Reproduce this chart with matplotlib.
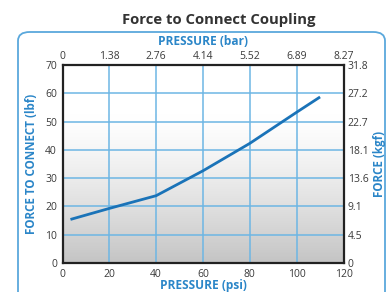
import matplotlib
matplotlib.use("Agg")
import matplotlib.pyplot as plt
import numpy as np
from matplotlib.patches import FancyBboxPatch

psi = [3.4, 20, 40, 60, 80, 100, 110]
force_lbf = [15.4, 19.3, 23.8, 32.6, 42.3, 53.3, 58.7]
psi_ticks = [0, 20, 40, 60, 80, 100, 120]
bar_labels = ["0", "1.38", "2.76", "4.14", "5.52", "6.89", "8.27"]
lbf_ticks = [0, 10, 20, 30, 40, 50, 60, 70]
kgf_labels = ["0", "4.5", "9.1", "13.6", "18.1", "22.7", "27.2", "31.8"]

plt.rcParams['font.family'] = ['Open Sans', 'DejaVu Sans']
blue = '#2b86c8'
grid_blue = '#6db6e4'
tick_col = '#3a3a3a'

W, H = 389, 292
L, R, T, B = 62.5, 343.5, 65, 263
fig = plt.figure(figsize=(W/100, H/100), dpi=100)
fig.patch.set_facecolor('white')

box = FancyBboxPatch((18/W, -0.1), (385-18)/W, (292-32)/H + 0.1,
                     boxstyle="round,pad=0,rounding_size=0.03",
                     transform=fig.transFigure, fc='white', ec='#5aa8dc', lw=1.3, zorder=-5)
fig.patches.append(box)

ax = fig.add_axes([L/W, (H-B)/H, (R-L)/W, (B-T)/H])
ax.set_xlim(0, 120)
ax.set_ylim(0, 70)

# gradient background
g = np.linspace(0, 1, 256).reshape(-1, 1)
vals = np.clip((0.75 - g) / 0.75, 0, 1)
shade = 1 - 0.23 * vals**1.3
img = np.dstack([shade, shade, shade])
ax.imshow(img, extent=[0, 120, 0, 70], origin='lower', aspect='auto', zorder=0)

for x in psi_ticks[1:-1]:
    ax.axvline(x, color=grid_blue, lw=1.1, zorder=1)
for y in lbf_ticks[1:-1]:
    ax.axhline(y, color=grid_blue, lw=1.1, zorder=1)

ax.plot(psi, force_lbf, color='#1a73b8', lw=2.0, zorder=3, solid_capstyle='butt')

for s in ax.spines.values():
    s.set_color('#222222')
    s.set_linewidth(1.6)

ax.set_xticks(psi_ticks)
ax.set_xticklabels([str(t) for t in psi_ticks])
ax.set_yticks(lbf_ticks)
ax.set_yticklabels([str(t) for t in lbf_ticks])
ax.tick_params(axis='x', length=0, labelsize=7.5, colors=tick_col, pad=4)
ax.tick_params(axis='y', length=0, labelsize=7.5, colors=tick_col, pad=4)

h = B - T
ax.set_xlabel("PRESSURE (psi)", color=blue, fontsize=8.6, fontweight='bold')
ax.xaxis.set_label_coords(0.5, (B - 285) / h)
ax.xaxis.label.set_va('center')
ax.set_ylabel("FORCE TO CONNECT (lbf)", color=blue, fontsize=8.4, fontweight='bold')
ax.yaxis.set_label_coords((32 - L) / (R - L), 0.5)
ax.yaxis.label.set_va('center')

axt = ax.twiny()
axt.set_xlim(0, 120)
axt.set_xticks(psi_ticks)
axt.set_xticklabels(bar_labels)
axt.tick_params(axis='x', length=0, labelsize=7.5, colors=tick_col, pad=2)
axt.set_xlabel("PRESSURE (bar)", color=blue, fontsize=8.6, fontweight='bold')
axt.xaxis.set_label_coords(0.5, (B - 41) / h)
axt.xaxis.label.set_va('center')
for s in axt.spines.values():
    s.set_visible(False)

axr = ax.twinx()
axr.set_ylim(0, 70)
axr.set_yticks(lbf_ticks)
axr.set_yticklabels(kgf_labels)
axr.tick_params(axis='y', length=0, labelsize=7.5, colors=tick_col, pad=3)
axr.set_ylabel("FORCE (kgf)", color=blue, fontsize=8.4, fontweight='bold')
axr.yaxis.set_label_coords((380 - L) / (R - L), 0.5)
axr.yaxis.label.set_va('center')
for s in axr.spines.values():
    s.set_visible(False)

fig.text(219/W, 1 - 20/H, "Force to Connect Coupling", ha='center', va='center',
         fontsize=10.7, fontweight='bold', color='#333333')

fig.savefig("out.png", dpi=100)
